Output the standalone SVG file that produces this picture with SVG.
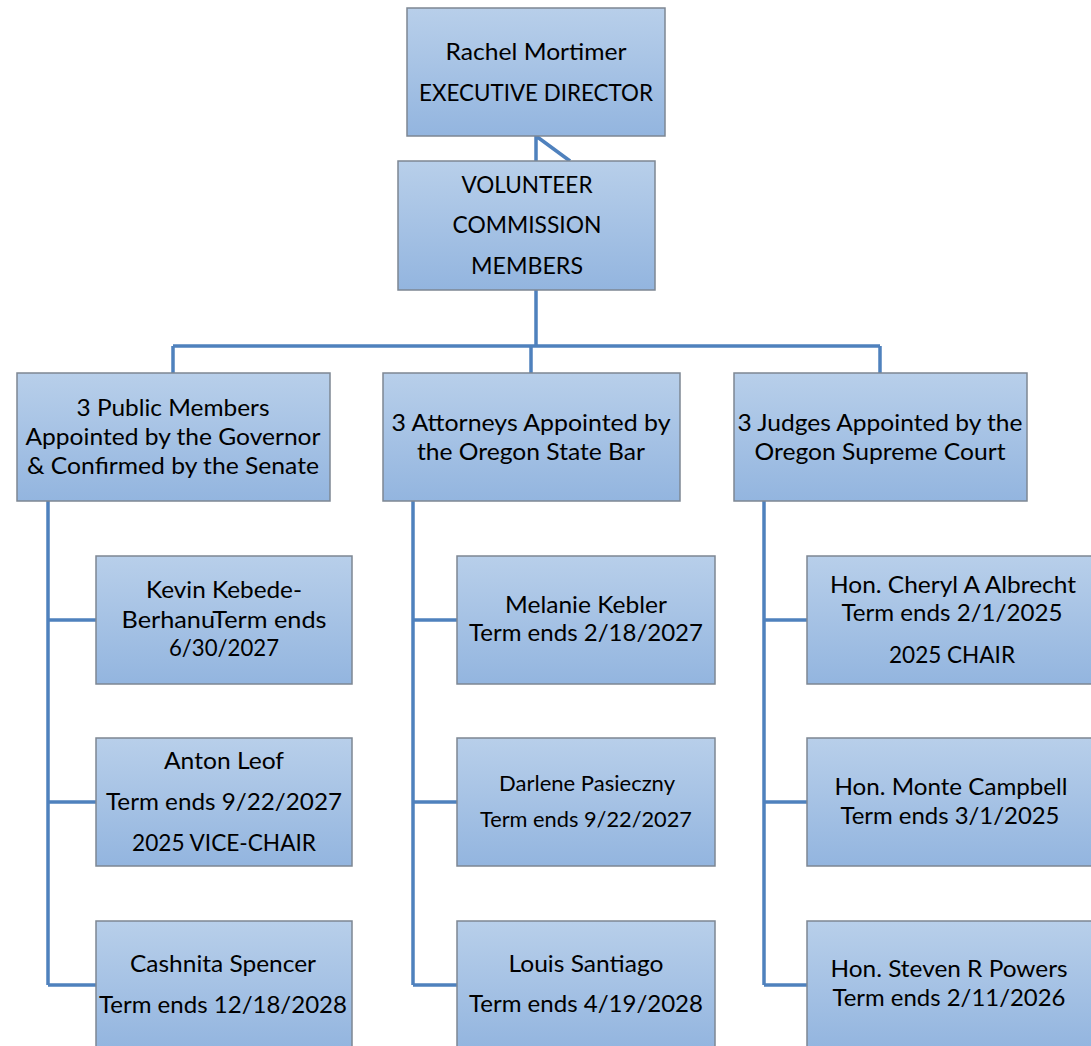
<svg xmlns="http://www.w3.org/2000/svg" width="1091" height="1046" viewBox="0 0 1091 1046">
<defs>
<linearGradient id="g" x1="0" y1="0" x2="0" y2="1">
<stop offset="0" stop-color="#b8cfea"/>
<stop offset="1" stop-color="#93b5df"/>
</linearGradient>
</defs>
<style>
.box{fill:url(#g);stroke:#7d8793;stroke-width:1.5}
.c{fill:none;stroke:#4f81bd;stroke-width:3.5}
text{font-family:Lato,"Liberation Sans",sans-serif;font-size:23px;fill:#000;text-anchor:middle}
.s{font-size:21px}
</style>
<rect width="1091" height="1046" fill="#fff"/>
<g id="connectors">
<path class="c" d="M536 136V161M536 136L570 161"/>
<path class="c" d="M536 290V346M173 346H880M173 346V373M531 346V373M880 346V373"/>
<path class="c" d="M48 501V985M48 620H96M48 802H96M48 985H96"/>
<path class="c" d="M413 501V985M413 620H457M413 802H457M413 985H457"/>
<path class="c" d="M764 501V985M764 620H807M764 802H807M764 985H807"/>
</g>
<g id="director">
<rect class="box" x="407" y="8" width="258" height="128"/>
<text x="536" y="60" textLength="181" lengthAdjust="spacingAndGlyphs">Rachel Mortimer</text>
<text x="536" y="101" textLength="234" lengthAdjust="spacingAndGlyphs">EXECUTIVE DIRECTOR</text>
</g>
<g id="volunteer">
<rect class="box" x="398" y="161" width="257" height="129"/>
<text x="527" y="193" textLength="131" lengthAdjust="spacingAndGlyphs">VOLUNTEER</text>
<text x="527" y="233" textLength="149" lengthAdjust="spacingAndGlyphs">COMMISSION</text>
<text x="527" y="274" textLength="112" lengthAdjust="spacingAndGlyphs">MEMBERS</text>
</g>
<g id="public">
<rect class="box" x="17" y="373" width="313" height="128"/>
<text x="173" y="416" textLength="193" lengthAdjust="spacingAndGlyphs">3 Public Members</text>
<text x="173" y="445" textLength="295" lengthAdjust="spacingAndGlyphs">Appointed by the Governor</text>
<text x="173" y="474" textLength="292" lengthAdjust="spacingAndGlyphs">&amp; Confirmed by the Senate</text>
</g>
<g id="attorneys">
<rect class="box" x="383" y="373" width="297" height="128"/>
<text x="531" y="431" textLength="279" lengthAdjust="spacingAndGlyphs">3 Attorneys Appointed by</text>
<text x="531" y="460" textLength="228" lengthAdjust="spacingAndGlyphs">the Oregon State Bar</text>
</g>
<g id="judges">
<rect class="box" x="734" y="373" width="293" height="128"/>
<text x="880" y="431" textLength="285" lengthAdjust="spacingAndGlyphs">3 Judges Appointed by the</text>
<text x="880" y="460" textLength="251" lengthAdjust="spacingAndGlyphs">Oregon Supreme Court</text>
</g>
<g id="kebede">
<rect class="box" x="96" y="556" width="256" height="128"/>
<text x="224" y="598" textLength="156" lengthAdjust="spacingAndGlyphs">Kevin Kebede-</text>
<text x="224" y="628" textLength="205" lengthAdjust="spacingAndGlyphs">BerhanuTerm ends</text>
<text x="224" y="656" textLength="110" lengthAdjust="spacingAndGlyphs">6/30/2027</text>
</g>
<g id="leof">
<rect class="box" x="96" y="738" width="256" height="128"/>
<text x="224" y="769" textLength="120" lengthAdjust="spacingAndGlyphs">Anton Leof</text>
<text x="224" y="810" textLength="236" lengthAdjust="spacingAndGlyphs">Term ends 9/22/2027</text>
<text x="224" y="851" textLength="184" lengthAdjust="spacingAndGlyphs">2025 VICE-CHAIR</text>
</g>
<g id="spencer">
<rect class="box" x="96" y="921" width="256" height="128"/>
<text x="223" y="972" textLength="186" lengthAdjust="spacingAndGlyphs">Cashnita Spencer</text>
<text x="223" y="1013" textLength="248" lengthAdjust="spacingAndGlyphs">Term ends 12/18/2028</text>
</g>
<g id="kebler">
<rect class="box" x="457" y="556" width="258" height="128"/>
<text x="586" y="613" textLength="162" lengthAdjust="spacingAndGlyphs">Melanie Kebler</text>
<text x="586" y="641" textLength="234" lengthAdjust="spacingAndGlyphs">Term ends 2/18/2027</text>
</g>
<g id="pasieczny">
<rect class="box" x="457" y="738" width="258" height="128"/>
<text class="s" x="587" y="791" textLength="176" lengthAdjust="spacingAndGlyphs">Darlene Pasieczny</text>
<text class="s" x="586" y="827" textLength="212" lengthAdjust="spacingAndGlyphs">Term ends 9/22/2027</text>
</g>
<g id="santiago">
<rect class="box" x="457" y="921" width="258" height="128"/>
<text x="586" y="972" textLength="155" lengthAdjust="spacingAndGlyphs">Louis Santiago</text>
<text x="586" y="1012" textLength="234" lengthAdjust="spacingAndGlyphs">Term ends 4/19/2028</text>
</g>
<g id="albrecht">
<rect class="box" x="807" y="556" width="290" height="128"/>
<text x="953" y="593" textLength="246" lengthAdjust="spacingAndGlyphs">Hon. Cheryl A Albrecht</text>
<text x="952" y="621" textLength="221" lengthAdjust="spacingAndGlyphs">Term ends 2/1/2025</text>
<text x="952" y="663" textLength="126" lengthAdjust="spacingAndGlyphs">2025 CHAIR</text>
</g>
<g id="campbell">
<rect class="box" x="807" y="738" width="290" height="128"/>
<text x="951" y="795" textLength="233" lengthAdjust="spacingAndGlyphs">Hon. Monte Campbell</text>
<text x="950" y="824" textLength="219" lengthAdjust="spacingAndGlyphs">Term ends 3/1/2025</text>
</g>
<g id="powers">
<rect class="box" x="807" y="921" width="290" height="128"/>
<text x="949" y="977" textLength="237" lengthAdjust="spacingAndGlyphs">Hon. Steven R Powers</text>
<text x="949" y="1006" textLength="233" lengthAdjust="spacingAndGlyphs">Term ends 2/11/2026</text>
</g>
</svg>
